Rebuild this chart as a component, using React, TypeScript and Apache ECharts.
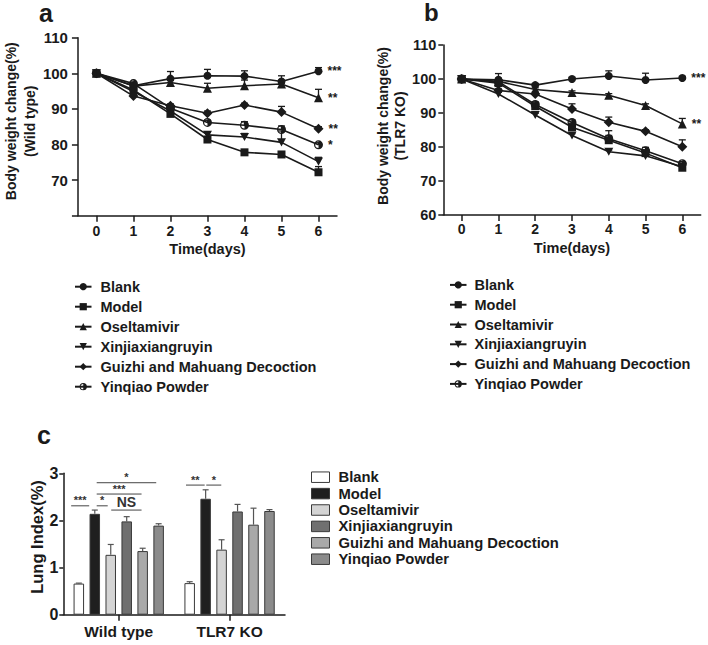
import React, { useEffect, useRef } from 'react';
import * as echarts from 'echarts';

const FF = '"Liberation Sans", Arial, Helvetica, sans-serif';

// ---------- data ----------
const days = ['0', '1', '2', '3', '4', '5', '6'];
const seriesNames = ['Blank', 'Model', 'Oseltamivir', 'Xinjiaxiangruyin', 'Guizhi and Mahuang Decoction', 'Yinqiao Powder'];

// Panel a (Wild type) body weight change (%)
const blankA = [100, 96.5, 98.5, 99.3, 99.2, 97.7, 100.6];
const modelA = [100, 95.3, 88.6, 81.4, 77.8, 77.2, 72.2];
const oselA = [100, 96.4, 97.4, 95.8, 96.5, 97.0, 93.1];
const xinA = [100, 94.9, 89.4, 82.7, 82.1, 80.6, 75.2];
const guiA = [100, 93.6, 90.9, 88.8, 91.1, 89.1, 84.4];
const yinA = [100, 97.1, 90.2, 86.2, 85.4, 84.2, 79.9];
const blankAErr = [0, 0.5, 2.0, 1.8, 1.5, 1.6, 1.0];
const modelAErr = [0, 0.4, 0.5, 0.6, 0.5, 0.6, 1.6];
const oselAErr = [0, 0.5, 0.6, 1.4, 1.6, 1.0, 2.4];
const xinAErr = [0, 0.4, 0.5, 0.8, 1.0, 3.2, 1.2];
const guiAErr = [0, 0.4, 0.5, 0.6, 0.5, 1.6, 0.6];
const yinAErr = [0, 0.5, 0.5, 0.6, 1.0, 1.0, 0.6];
const sigA = ['***', '', '**', '', '**', '*'];

// Panel b (TLR7 KO)
const blankB = [100, 99.8, 98.2, 100.0, 100.9, 99.7, 100.3];
const modelB = [100, 98.8, 92.0, 85.8, 82.0, 78.2, 73.9];
const oselB = [100, 99.3, 96.9, 96.0, 95.2, 92.2, 86.8];
const xinB = [100, 95.6, 89.4, 83.4, 78.6, 77.4, 74.2];
const guiB = [100, 96.6, 95.6, 91.2, 87.3, 84.6, 80.1];
const yinB = [100, 99.2, 92.5, 87.2, 82.4, 78.9, 75.1];
const blankBErr = [0, 1.8, 0.5, 0.5, 1.5, 2.0, 0.5];
const modelBErr = [0, 0.8, 0.8, 1.2, 2.8, 0.8, 0.6];
const oselBErr = [0, 0.5, 0.5, 0.5, 0.5, 0.5, 1.6];
const xinBErr = [0, 0.5, 0.5, 0.5, 0.5, 0.5, 0.5];
const guiBErr = [0, 0.5, 0.6, 1.5, 1.5, 0.5, 2.0];
const yinBErr = [0, 1.0, 0.8, 0.8, 1.0, 1.0, 0.6];
const sigB = ['***', '', '**', '', '', ''];

// Panel c lung index (%)
const groupsC = ['Wild type', 'TLR7 KO'];
const blankC = [0.66, 0.67];
const modelC = [2.14, 2.46];
const oselC = [1.27, 1.38];
const xinC = [1.98, 2.19];
const guiC = [1.35, 1.91];
const yinC = [1.89, 2.2];
const blankCErr = [0.01, 0.03];
const modelCErr = [0.08, 0.19];
const oselCErr = [0.22, 0.21];
const xinCErr = [0.1, 0.15];
const guiCErr = [0.06, 0.35];
const yinCErr = [0.04, 0.03];

// significance brackets in panel c (bar slots, 0 = Blank ... 5 = Yinqiao)
const sigCat = [0, 0, 0, 0, 0, 1, 1];
const sigFrom = [-0.48, 1.12, 2.03, 1.12, 1.12, -0.23, 1.04];
const sigTo = [0.65, 1.81, 3.93, 3.93, 4.85, 0.94, 1.98];
const sigY = [2.31, 2.31, 2.22, 2.56, 2.8, 2.75, 2.75];
const sigText = ['***', '*', 'NS', '***', '*', '**', '*'];

// ---------- styles ----------
const yinSymbol = 'path://M0,-5A5,5 0 1,1 0,5A5,5 0 1,1 0,-5Z M0,-3.6A3.6,3.6 0 0,0 0,3.6L0,-3.6Z';
const symbols = ['circle', 'rect', 'triangle', 'path://M0,0L10,0L5,9Z', 'diamond', yinSymbol];
const symbolSizes = [8, 8, 9, 9, 10, 9];
const barColors = ['#ffffff', '#1f1f1f', '#d4d4d4', '#707070', '#a9a9a9', '#8b8b8b'];
const BAR_W = 10.5;
const GAP_RATIO = 0.52;
const PITCH = BAR_W * (1 + GAP_RATIO);
const INK = '#1a1a1a';

const bold = (size: number) => ({ fontFamily: FF, fontWeight: 'bold' as const, fontSize: size, color: INK });

function buildOption() {
  const valsA = [blankA, modelA, oselA, xinA, guiA, yinA];
  const errsA = [blankAErr, modelAErr, oselAErr, xinAErr, guiAErr, yinAErr];
  const valsB = [blankB, modelB, oselB, xinB, guiB, yinB];
  const errsB = [blankBErr, modelBErr, oselBErr, xinBErr, guiBErr, yinBErr];
  const valsC = [blankC, modelC, oselC, xinC, guiC, yinC];
  const errsC = [blankCErr, modelCErr, oselCErr, xinCErr, guiCErr, yinCErr];

  const lineSeries = (g: number, vals: number[][], sig: string[]) =>
    vals.map((arr, k) => ({
      name: seriesNames[k],
      type: 'line',
      xAxisIndex: g,
      yAxisIndex: g,
      symbol: symbols[k],
      symbolSize: symbolSizes[k],
      symbolKeepAspect: true,
      lineStyle: { color: INK, width: 1.6 },
      itemStyle: { color: INK },
      z: 3,
      label: { position: 'right', distance: 5, ...bold(12) },
      data: arr.map((v, i) =>
        i === arr.length - 1 && sig[k] ? { value: v, label: { show: true, formatter: sig[k] } } : v
      ),
    }));

  const errSeries = (g: number, vals: number[][], errs: number[][]) => ({
    type: 'custom',
    xAxisIndex: g,
    yAxisIndex: g,
    silent: true,
    z: 2,
    encode: { x: 0, y: 1 },
    data: vals.flatMap((arr, k) => arr.map((v, i) => [i, v, errs[k][i]])),
    renderItem: (_p: any, api: any) => {
      const e = api.value(2);
      if (!e) return null;
      const a = api.coord([api.value(0), api.value(1)]);
      const b = api.coord([api.value(0), api.value(1) + e]);
      const st = { stroke: INK, lineWidth: 1.3 };
      return {
        type: 'group',
        children: [
          { type: 'line', shape: { x1: a[0], y1: a[1], x2: b[0], y2: b[1] }, style: st },
          { type: 'line', shape: { x1: b[0] - 3.5, y1: b[1], x2: b[0] + 3.5, y2: b[1] }, style: st },
        ],
      };
    },
  });

  const barSeries = valsC.map((arr, k) => ({
    name: seriesNames[k],
    type: 'bar',
    xAxisIndex: 2,
    yAxisIndex: 2,
    barWidth: BAR_W,
    barGap: GAP_RATIO * 100 + '%',
    itemStyle: { color: barColors[k], borderColor: '#3a3a3a', borderWidth: 1 },
    data: arr,
  }));

  const barErr = {
    type: 'custom',
    xAxisIndex: 2,
    yAxisIndex: 2,
    silent: true,
    z: 4,
    encode: { x: 0, y: 2 },
    data: valsC.flatMap((arr, k) => arr.map((v, c) => [c, k, v, errsC[k][c]])),
    renderItem: (_p: any, api: any) => {
      const base = api.coord([api.value(0), api.value(2)]);
      const top = api.coord([api.value(0), api.value(2) + api.value(3)]);
      const x = base[0] + (api.value(1) - 2.5) * PITCH;
      const st = { stroke: '#555', lineWidth: 1.2 };
      return {
        type: 'group',
        children: [
          { type: 'line', shape: { x1: x, y1: base[1], x2: x, y2: top[1] }, style: st },
          { type: 'line', shape: { x1: x - 3, y1: top[1], x2: x + 3, y2: top[1] }, style: st },
        ],
      };
    },
  };

  const sigSeries = {
    type: 'custom',
    xAxisIndex: 2,
    yAxisIndex: 2,
    silent: true,
    z: 5,
    encode: { x: 0, y: 1 },
    data: sigY.map((y, i) => [sigCat[i], y]),
    renderItem: (params: any, api: any) => {
      const i = params.dataIndex;
      const p = api.coord([api.value(0), api.value(1)]);
      const x1 = p[0] + (sigFrom[i] - 2.5) * PITCH;
      const x2 = p[0] + (sigTo[i] - 2.5) * PITCH;
      const isNS = sigText[i] === 'NS';
      return {
        type: 'group',
        children: [
          { type: 'line', shape: { x1, y1: p[1], x2, y2: p[1] }, style: { stroke: '#444', lineWidth: 1 } },
          {
            type: 'text',
            x: (x1 + x2) / 2,
            y: p[1] - (isNS ? 1 : 0),
            style: {
              text: sigText[i],
              align: 'center',
              verticalAlign: 'bottom',
              font: `bold ${isNS ? 14 : 11}px ${FF}`,
              fill: '#333',
            },
          },
        ],
      };
    },
  };

  const axisLine = { show: true, lineStyle: { color: INK, width: 1.5 } };
  const axisTick = (len: number) => ({ show: true, length: len, lineStyle: { color: INK, width: 1.5 } });

  const xCat = (g: number, data: string[], margin: number, name: string, nameGap: number, fs: number) => ({
    gridIndex: g,
    type: 'category',
    data,
    boundaryGap: true,
    axisLine,
    axisTick: { ...axisTick(6), alignWithLabel: true },
    axisLabel: { margin, ...bold(fs) },
    name,
    nameLocation: 'middle',
    nameGap,
    nameTextStyle: bold(14.5),
    splitLine: { show: false },
  });

  const legendBase = {
    orient: 'vertical',
    padding: 0,
    itemGap: 0,
    selectedMode: false,
  };

  return {
    animation: false,
    textStyle: { fontFamily: FF },
    grid: [
      { left: 68, top: 37.7, width: 269, height: 178 },
      { left: 443.3, top: 45, width: 257.4, height: 170 },
      { left: 63.3, top: 473.3, width: 221.7, height: 141.4 },
    ],
    xAxis: [
      xCat(0, days, 8, 'Time(days)', 26, 14),
      xCat(1, days, 7, 'Time(days)', 25, 14),
      xCat(2, groupsC, 9, '', 0, 15.5),
    ],
    yAxis: [
      {
        gridIndex: 0,
        type: 'value',
        min: 60,
        max: 110,
        interval: 10,
        axisLine,
        axisTick: axisTick(6),
        splitLine: { show: false },
        axisLabel: { margin: 10, ...bold(15), formatter: (v: number) => (v === 60 ? '' : String(v)) },
        name: 'Body weight change(%)\n(Wild type)',
        nameLocation: 'middle',
        nameGap: 31,
        nameTextStyle: { ...bold(14), lineHeight: 19, padding: [0, 0, 0, 11] },
      },
      {
        gridIndex: 1,
        type: 'value',
        min: 60,
        max: 110,
        interval: 10,
        axisLine,
        axisTick: axisTick(5),
        splitLine: { show: false },
        axisLabel: { margin: 7, ...bold(14.5) },
        name: 'Body weight change(%)\n(TLR7 KO)',
        nameLocation: 'middle',
        nameGap: 32,
        nameTextStyle: { ...bold(14), lineHeight: 17, padding: [0, 0, 0, 8] },
      },
      {
        gridIndex: 2,
        type: 'value',
        min: 0,
        max: 3,
        interval: 1,
        axisLine,
        axisTick: axisTick(4),
        splitLine: { show: false },
        axisLabel: { margin: 5, ...bold(16) },
        name: 'Lung Index(%)',
        nameLocation: 'middle',
        nameGap: 14,
        nameTextStyle: { ...bold(16.5), padding: [0, 0, 0, 14] },
      },
    ],
    legend: [
      {
        ...legendBase,
        left: 74,
        top: 276.7,
        itemWidth: 16.5,
        itemHeight: 9,
        textStyle: { ...bold(14.5), lineHeight: 20, padding: [0, 0, 0, 4] },
        data: seriesNames,
      },
      {
        ...legendBase,
        left: 449,
        top: 275,
        itemWidth: 16.5,
        itemHeight: 9,
        textStyle: { ...bold(14.5), lineHeight: 19.8, padding: [0, 0, 0, 3] },
        data: seriesNames,
      },
      {
        ...legendBase,
        left: 311,
        top: 469,
        itemWidth: 18,
        itemHeight: 10.5,
        textStyle: { ...bold(14.8), lineHeight: 16.4, padding: [0, 0, 0, 4] },
        data: seriesNames.map((n, i) => ({
          name: n,
          icon: 'rect',
          itemStyle: { color: barColors[i], borderColor: '#3a3a3a', borderWidth: 1 },
        })),
      },
    ],
    graphic: [
      { type: 'text', left: 39, top: 0, style: { text: 'a', font: `bold 25px ${FF}`, fill: INK } },
      { type: 'text', left: 424, top: 0, style: { text: 'b', font: `bold 24px ${FF}`, fill: INK } },
      { type: 'text', left: 37, top: 422, style: { text: 'c', font: `bold 25px ${FF}`, fill: INK } },
    ],
    series: [
      ...lineSeries(0, valsA, sigA),
      ...lineSeries(1, valsB, sigB),
      errSeries(0, valsA, errsA),
      errSeries(1, valsB, errsB),
      ...barSeries,
      barErr,
      sigSeries,
    ],
  };
}

export default function App() {
  const ref = useRef<HTMLDivElement>(null);
  useEffect(() => {
    document.body.style.margin = '0';
    if (!ref.current) return;
    const chart = echarts.init(ref.current, undefined, { renderer: 'svg' });
    chart.setOption(buildOption() as any);
    return () => chart.dispose();
  }, []);
  return <div ref={ref} style={{ width: 708, height: 645, background: '#fff' }} />;
}
